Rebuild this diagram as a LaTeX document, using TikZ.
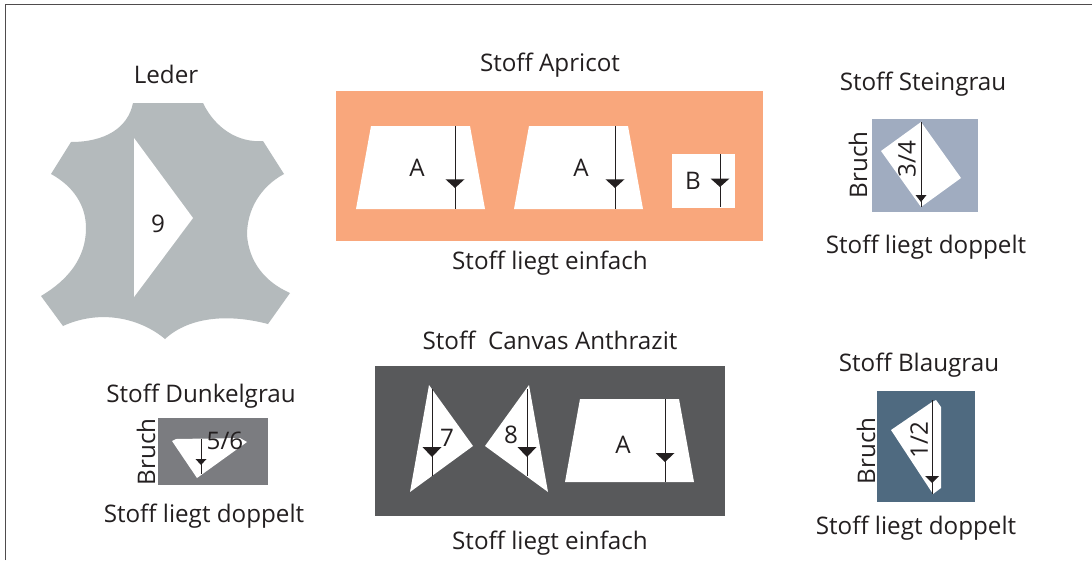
\documentclass[tikz,border=0pt]{standalone}
\usepackage{fontspec}
\setmainfont{Open Sans}
\definecolor{apricot}{HTML}{F9A77C}
\definecolor{leder}{HTML}{B4BABC}
\definecolor{anthra}{HTML}{58595B}
\definecolor{dunkel}{HTML}{7B7C80}
\definecolor{stein}{HTML}{A0ACC0}
\definecolor{blau}{HTML}{4F6A80}
\definecolor{ink}{HTML}{231F20}
\newcommand{\grainline}[6]{%
  \draw[grainstroke] (#1,#2) -- (#1,#3);
  \fill[ink] (#1-#6,#4) -- (#1+#6,#4) -- (#1,#5) -- cycle;}
\tikzset{
  lbl/.style={font=\fontsize{24.2}{29}\selectfont, text=ink, inner sep=0pt, anchor=base},
  grainstroke/.style={draw=ink, line width=0.9pt},
  piece/.style={fill=white}
}
\begin{document}
\begin{tikzpicture}[x=1pt,y=-1pt]
\useasboundingbox (0,0) rectangle (1092,560);
\fill[white] (0,0) rectangle (1092,560);
\draw[draw=ink!80, line width=1pt] (5.5,560) -- (5.5,4.5) -- (1092,4.5);
% Leder
\fill[leder] (133,103) -- (203,103)
  .. controls (215,128) and (238,143) .. (263,141)
  -- (284,174)
  .. controls (260,187) and (247,210) .. (247,235)
  .. controls (249,262) and (265,282) .. (290,293)
  -- (268,324)
  .. controls (230,314) and (190,316) .. (165,339)
  .. controls (140,318) and (100,309) .. (63,326)
  -- (41,296)
  .. controls (68,280) and (86,258) .. (86,228)
  .. controls (86,205) and (73,186) .. (51,174)
  -- (71,142)
  .. controls (105,142) and (128,128) .. (133,103) -- cycle;
\fill[piece] (134,138) -- (193,218) -- (134,297) -- cycle;
\node[lbl] (leder) at (166,83.5) {Leder};
\node[lbl] (n9) at (158,232) {9};
% Apricot
\fill[apricot] (336,91) rectangle (763,241);
\fill[piece] (371,126) -- (470,126) -- (485,209) -- (356,209) -- cycle;
\fill[piece] (529,126) -- (628,126) -- (643,209) -- (514,209) -- cycle;
\fill[piece] (672,154) rectangle (735,208);
\grainline{455}{126}{209}{179.3}{188}{9.5}
\grainline{615}{126}{209}{179.3}{188}{9.5}
\grainline{720}{154}{207}{178.5}{187}{9.5}
\node[lbl] (apricot) at (550,71) {Stoff Apricot};
\node[lbl] (a1) at (417,176) {A};
\node[lbl] (a2) at (581,176) {A};
\node[lbl] (b) at (693,189) {B};
\node[lbl] (e1) at (550,269) {Stoff liegt einfach};
% Steingrau
\fill[stein] (872,119) rectangle (978,212);
\fill[piece] (921,122) -- (961,178) -- (921,207) -- (881,151) -- cycle;
\grainline{921}{122}{207}{195}{202}{5.5}
\node[lbl] (steingrau) at (923,90) {Stoff Steingrau};
\node[lbl,rotate=90,anchor=center] (bruch1) at (858,165) {Bruch};
\node[lbl,rotate=90,anchor=center] (n34) at (907,159) {3/4};
\node[lbl] (d1) at (926,253) {Stoff liegt doppelt};
% Canvas Anthrazit
\fill[anthra] (375,366) rectangle (725,516);
\fill[piece] (429,385) -- (473,446) -- (410,492) -- cycle;
\fill[piece] (529,385) -- (485,446) -- (548,492) -- cycle;
\fill[piece] (580,399) -- (679,399) -- (694,482) -- (565,482) -- cycle;
\grainline{432}{389}{476}{447}{457}{9.5}
\grainline{527}{389}{476}{447}{457}{9.5}
\grainline{665}{399}{482}{453}{462}{9.5}
\node[lbl] (canvas) at (550,349) {Stoff\ \ Canvas Anthrazit};
\node[lbl] (n7) at (447,446) {7};
\node[lbl] (n8) at (511,443) {8};
\node[lbl] (a3) at (623,453) {A};
\node[lbl] (e2) at (550,549) {Stoff liegt einfach};
% Dunkelgrau
\fill[dunkel] (158,418) rectangle (268,485);
\fill[piece] (176,439) -- (240,438) -- (247,442) -- (197,478) -- (172,441) -- cycle;
\grainline{201}{439}{474}{459}{465}{5.5}
\node[lbl] (dunkelgrau) at (201,402) {Stoff Dunkelgrau};
\node[lbl,rotate=90,anchor=center] (bruch2) at (146,452) {Bruch};
\node[lbl] (n56) at (225,449) {5/6};
\node[lbl] (d2) at (204,522) {Stoff liegt doppelt};
% Blaugrau
\fill[blau] (877,391) rectangle (975,502);
\fill[piece] (932,402) -- (936,400) -- (941,407) -- (941,488) -- (933,494) -- (891,430) -- cycle;
\grainline{932}{400}{494}{476}{483}{7}
\node[lbl] (blaugrau) at (919,371) {Stoff Blaugrau};
\node[lbl,rotate=90,anchor=center] (bruch3) at (866,451) {Bruch};
\node[lbl,rotate=90,anchor=center] (n12) at (919,440) {1/2};
\node[lbl] (d3) at (916,534) {Stoff liegt doppelt};
\end{tikzpicture}
\end{document}
